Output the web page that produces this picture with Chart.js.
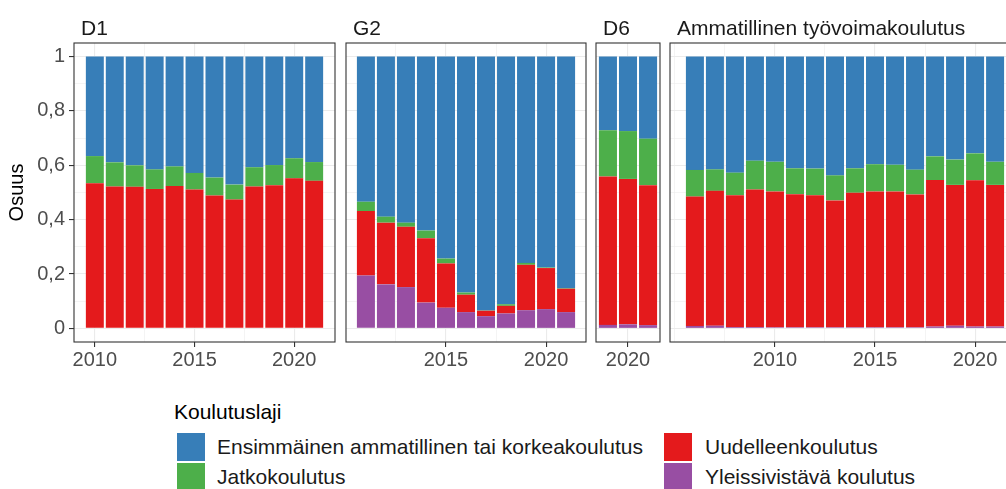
<!DOCTYPE html>
<html>
<head>
<meta charset="utf-8">
<script src="https://cdn.jsdelivr.net/npm/chart.js@4.4.1/dist/chart.umd.min.js"></script>
<style>
body{margin:0;width:1006px;height:489px;overflow:hidden;background:#fff;position:relative;font-family:"Liberation Sans",Arial,sans-serif}
canvas{position:absolute;top:33px}
.strip{position:absolute;top:17px;font-size:21px;line-height:21px;color:#1a1a1a;white-space:nowrap}
.ltitle{position:absolute;left:174px;top:400px;font-size:21px;line-height:24px;color:#000}
.key{position:absolute;width:28px;height:28px}
.lab{position:absolute;font-size:21px;line-height:28px;color:#1a1a1a;white-space:nowrap}
</style>
</head>
<body>
<canvas id="d1" width="337" height="349" style="left:0px"></canvas>
<canvas id="g2" width="244" height="349" style="left:344px"></canvas>
<canvas id="d6" width="68" height="349" style="left:594px"></canvas>
<canvas id="amm" width="354" height="349" style="left:668px"></canvas>

<div class="strip" style="left:81px">D1</div>
<div class="strip" style="left:353px">G2</div>
<div class="strip" style="left:603px">D6</div>
<div class="strip" style="left:677px">Ammatillinen työvoimakoulutus</div>

<div class="ltitle">Koulutuslaji</div>
<div class="key" style="left:177px;top:433px;background:#377EB8"></div>
<div class="lab" style="left:217px;top:433px">Ensimmäinen ammatillinen tai korkeakoulutus</div>
<div class="key" style="left:177px;top:463px;background:#4DAF4A"></div>
<div class="lab" style="left:217px;top:463px">Jatkokoulutus</div>
<div class="key" style="left:664px;top:433px;background:#E41A1C"></div>
<div class="lab" style="left:705px;top:433px">Uudelleenkoulutus</div>
<div class="key" style="left:664px;top:463px;background:#984EA3"></div>
<div class="lab" style="left:705px;top:463px">Yleissivistävä koulutus</div>

<script>
// D1
const d1Years = [2010,2011,2012,2013,2014,2015,2016,2017,2018,2019,2020,2021]
const d1Yleis = [0.002,0.002,0.002,0.002,0.002,0.002,0.002,0.002,0.002,0.002,0.002,0.002]
const d1Uudell = [0.532,0.520,0.519,0.511,0.522,0.509,0.487,0.472,0.520,0.525,0.550,0.541]
const d1Jatko = [0.100,0.089,0.079,0.072,0.072,0.061,0.066,0.055,0.071,0.074,0.074,0.069]
const d1Ensim = [0.366,0.389,0.400,0.415,0.404,0.428,0.445,0.471,0.407,0.399,0.374,0.388]

// G2
const g2Years = [2011,2012,2013,2014,2015,2016,2017,2018,2019,2020,2021]
const g2Yleis = [0.195,0.162,0.152,0.095,0.076,0.060,0.045,0.055,0.067,0.071,0.060]
const g2Uudell = [0.237,0.227,0.222,0.237,0.163,0.064,0.020,0.028,0.167,0.151,0.086]
const g2Jatko = [0.034,0.022,0.015,0.028,0.018,0.008,0.001,0.006,0.007,0.002,0.002]
const g2Ensim = [0.534,0.589,0.611,0.640,0.743,0.868,0.934,0.911,0.759,0.776,0.852]

// D6
const d6Years = [2019,2020,2021]
const d6Yleis = [0.013,0.015,0.012]
const d6Uudell = [0.546,0.535,0.515]
const d6Jatko = [0.170,0.176,0.171]
const d6Ensim = [0.271,0.274,0.302]

// Ammatillinen työvoimakoulutus
const ammYears = [2006,2007,2008,2009,2010,2011,2012,2013,2014,2015,2016,2017,2018,2019,2020,2021]
const ammYleis = [0.009,0.010,0.005,0.005,0.004,0.004,0.004,0.004,0.004,0.004,0.004,0.004,0.007,0.010,0.007,0.007]
const ammUudell = [0.476,0.496,0.485,0.506,0.500,0.490,0.486,0.467,0.495,0.500,0.500,0.489,0.539,0.518,0.538,0.521]
const ammJatko = [0.098,0.079,0.083,0.106,0.109,0.095,0.098,0.092,0.090,0.100,0.098,0.091,0.087,0.093,0.099,0.085]
const ammEnsim = [0.417,0.415,0.427,0.383,0.387,0.411,0.412,0.437,0.411,0.396,0.398,0.416,0.367,0.379,0.356,0.387]

const yTicks = [0,0.2,0.4,0.6,0.8,1]
const yTickLabels = ['0','0,2','0,4','0,6','0,8','1']
const yMinor = [0.1,0.3,0.5,0.7,0.9]
const xMajor = [2010,2015,2020]

const frame = {
  id:'frame',
  afterDraw(chart){
    const {ctx, chartArea:a} = chart
    ctx.save()
    ctx.strokeStyle = '#333333'
    ctx.lineWidth = 1.1
    ctx.strokeRect(a.left, a.top, a.right - a.left, a.bottom - a.top)
    ctx.restore()
  }
}

function panel(id, years, yleis, uudell, jatko, ensim, xMin, xMax, xMinor, showY){
  const pts = arr => arr.map((v, i) => ({x: years[i], y: v}))
  const xAll = xMajor.concat(xMinor).filter(v => v > xMin && v < xMax).sort((a, b) => a - b)
  const yAll = yTicks.concat(yMinor).sort((a, b) => a - b)
  return new Chart(document.getElementById(id), {
    type:'bar',
    data:{
      datasets:[
        {label:'Yleissivistävä koulutus', data:pts(yleis), backgroundColor:'#984EA3'},
        {label:'Uudelleenkoulutus', data:pts(uudell), backgroundColor:'#E41A1C'},
        {label:'Jatkokoulutus', data:pts(jatko), backgroundColor:'#4DAF4A'},
        {label:'Ensimmäinen ammatillinen tai korkeakoulutus', data:pts(ensim), backgroundColor:'#377EB8'}
      ]
    },
    options:{
      responsive:false,
      animation:false,
      layout:{padding:{left:showY ? 0 : 2, right:2, top:10, bottom:0}},
      plugins:{legend:{display:false}, tooltip:{enabled:false}},
      datasets:{bar:{barPercentage:0.9, categoryPercentage:1, borderWidth:0}},
      scales:{
        x:{
          type:'linear', stacked:true, min:xMin, max:xMax, offset:false,
          afterBuildTicks: ax => { ax.ticks = xAll.map(v => ({value:v})) },
          afterFit: ax => { ax.height = 40; ax.paddingLeft = 0; ax.paddingRight = 0 },
          border:{display:false},
          grid:{
            offset:false,
            color:'#EBEBEB',
            lineWidth: c => xMajor.includes(c.tick.value) ? 1.1 : 0.55,
            tickColor: c => xMajor.includes(c.tick.value) ? '#333333' : 'rgba(0,0,0,0)',
            tickWidth:1.1,
            tickLength:5
          },
          ticks:{
            autoSkip:false, maxRotation:0, padding:1, color:'#4D4D4D',
            font:{family:'"Liberation Sans", Arial, sans-serif', size:20},
            callback: v => xMajor.includes(v) ? String(v) : ''
          }
        },
        y:{
          stacked:true, min:-0.05, max:1.05,
          afterBuildTicks: ax => { ax.ticks = yAll.map(v => ({value:v})) },
          afterFit: ax => { ax.width = showY ? 74 : 0; ax.paddingTop = 0; ax.paddingBottom = 0 },
          border:{display:false},
          grid:{
            color:'#EBEBEB',
            lineWidth: c => yTicks.includes(c.tick.value) ? 1.1 : 0.55,
            tickColor: c => showY && yTicks.includes(c.tick.value) ? '#333333' : 'rgba(0,0,0,0)',
            tickWidth:1.1,
            tickLength: showY ? 5 : 0,
            drawTicks: showY
          },
          ticks:{
            display:showY, padding:4, color:'#4D4D4D',
            font:{family:'"Liberation Sans", Arial, sans-serif', size:20},
            callback: v => { const i = yTicks.indexOf(v); return i < 0 ? '' : yTickLabels[i] }
          },
          title:{
            display:showY, text:'Osuus', color:'#000000', padding:{top:5, bottom:0},
            font:{family:'"Liberation Sans", Arial, sans-serif', size:20}
          }
        }
      }
    },
    plugins:[frame]
  })
}

panel('d1', d1Years, d1Yleis, d1Uudell, d1Jatko, d1Ensim, 2008.955, 2022.045, [2007.5,2012.5,2017.5], true)
panel('g2', g2Years, g2Yleis, g2Uudell, g2Jatko, g2Ensim, 2010.005, 2021.995, [2012.5,2017.5], false)
panel('d6', d6Years, d6Yleis, d6Uudell, d6Jatko, d6Ensim, 2018.405, 2021.595, [], false)
panel('amm', ammYears, ammYleis, ammUudell, ammJatko, ammEnsim, 2004.755, 2022.245, [2005,2007.5,2012.5,2017.5], false)
</script>
</body>
</html>
